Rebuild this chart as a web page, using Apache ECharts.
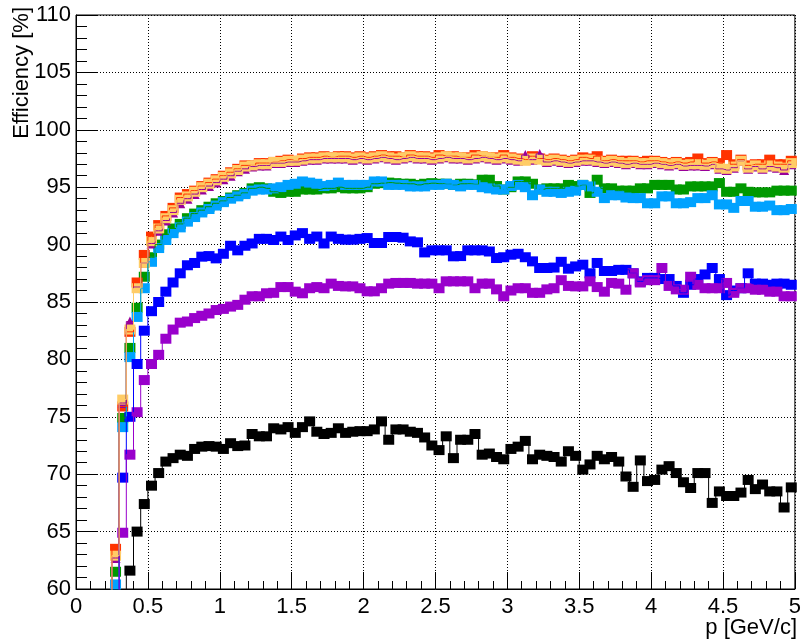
<!DOCTYPE html>
<html>
<head>
<meta charset="utf-8">
<script src="https://cdn.jsdelivr.net/npm/echarts@6/dist/echarts.min.js"></script>
<style>html,body{margin:0;padding:0;background:#fff}#c{width:804px;height:643px}</style>
</head>
<body>
<div id="c"></div>
<script>
// bin centres, p [GeV/c]
const P = [0.225,0.275,0.325,0.375,0.425,0.475,0.525,0.575,0.625,0.675,
0.725,0.775,0.825,0.875,0.925,0.975,1.025,1.075,1.125,1.175,
1.225,1.275,1.325,1.375,1.425,1.475,1.525,1.575,1.625,1.675,
1.725,1.775,1.825,1.875,1.925,1.975,2.025,2.075,2.125,2.175,
2.225,2.275,2.325,2.375,2.425,2.475,2.525,2.575,2.625,2.675,
2.725,2.775,2.825,2.875,2.925,2.975,3.025,3.075,3.125,3.175,
3.225,3.275,3.325,3.375,3.425,3.475,3.525,3.575,3.625,3.675,
3.725,3.775,3.825,3.875,3.925,3.975,4.025,4.075,4.125,4.175,
4.225,4.275,4.325,4.375,4.425,4.475,4.525,4.575,4.625,4.675,
4.725,4.775,4.825,4.875,4.925,4.975];

const effRed = [0,63.5,75.9,82.4,86.7,89.1,90.7,91.7,92.5,93.2,
94.1,94.4,94.7,95.1,95.4,95.7,96.0,96.3,96.6,96.9,
96.9,97.1,97.1,97.2,97.3,97.4,97.3,97.5,97.6,97.6,
97.7,97.6,97.7,97.7,97.6,97.7,97.6,97.7,97.8,97.7,
97.7,97.6,97.8,97.7,97.7,97.6,97.8,97.7,97.7,97.6,
97.6,97.8,97.7,97.6,97.6,97.8,97.6,97.5,97.4,97.7,
97.5,97.4,97.5,97.4,97.3,97.4,97.6,97.5,97.7,97.3,
97.4,97.3,97.3,97.3,97.2,97.3,97.3,97.2,97.1,97.2,
97.1,97.2,97.5,97.1,97.2,97.1,97.8,97.0,97.4,96.9,
97.0,97.0,97.4,97.0,97.0,97.3];

const effMagenta = [0,62.7,76.2,83.3,86.3,88.4,90.1,91.2,92.1,92.8,
93.6,94.0,94.4,94.8,95.1,95.4,95.7,96.0,96.4,96.6,
96.8,96.9,96.9,97.1,97.1,97.2,97.2,97.3,97.4,97.4,
97.5,97.5,97.5,97.5,97.4,97.5,97.4,97.5,97.6,97.5,
97.4,97.5,97.6,97.5,97.5,97.4,97.5,97.6,97.5,97.5,
97.4,97.5,97.6,97.5,97.4,97.5,97.4,97.3,97.8,97.4,
97.9,97.2,97.3,97.2,97.1,97.2,97.3,97.3,97.2,97.1,
97.2,97.1,97.0,97.1,97.0,97.0,97.1,97.0,96.9,97.0,
96.85,96.9,96.9,96.85,97.0,96.6,96.5,96.7,97.3,96.6,
96.8,96.6,96.8,96.7,96.5,97.0];

const effOrange = [0,62.9,76.5,82.6,86.2,88.4,90.3,91.4,92.3,93.0,
93.9,94.2,94.6,95.0,95.3,95.6,95.9,96.2,96.5,96.8,
96.9,97.0,97.0,97.2,97.2,97.3,97.3,97.4,97.5,97.5,
97.6,97.6,97.6,97.6,97.5,97.6,97.5,97.6,97.7,97.6,
97.5,97.6,97.7,97.6,97.6,97.5,97.6,97.7,97.6,97.6,
97.5,97.6,97.7,97.6,97.5,97.6,97.5,97.4,97.3,97.5,
97.4,97.3,97.4,97.3,97.2,97.3,97.4,97.4,97.3,97.2,
97.3,97.2,97.1,97.2,97.1,97.1,97.2,97.1,97.0,97.1,
96.95,97.0,97.0,96.95,97.1,96.7,96.6,96.8,97.3,96.7,
96.9,96.7,96.9,96.8,96.7,97.1];

const effGreen = [0,61.5,74.9,81.0,84.5,87.2,88.9,90.0,90.9,91.4,
91.8,92.3,92.7,93.0,93.3,93.6,93.8,94.1,94.3,94.5,
94.9,95.0,94.9,94.6,94.5,94.6,94.6,94.8,94.8,94.8,
94.9,94.9,95.0,94.9,94.9,94.9,95.0,95.3,95.35,95.4,
95.35,95.3,95.3,95.2,95.3,95.35,95.3,95.3,95.2,95.3,
95.3,95.25,95.65,95.65,95.1,94.8,95.0,95.5,95.5,95.3,
94.8,94.9,94.9,94.9,95.2,95.1,95.2,94.5,95.65,94.9,
94.9,94.7,94.7,94.7,94.9,94.9,95.2,95.2,95.2,94.8,
94.8,95.07,95.07,95.07,95.07,95.36,94.6,94.6,94.9,94.6,
94.55,94.55,94.55,94.7,94.7,94.7];

const effLightBlue = [0,60.4,74.1,80.2,83.7,86.2,88.5,89.7,90.4,91.0,
91.5,92.0,92.4,92.8,93.1,93.4,93.7,94.0,94.2,94.4,
94.7,94.8,94.8,94.9,95.0,95.2,95.3,95.5,95.4,95.3,
95.1,95.2,95.4,95.2,95.2,95.2,95.2,95.5,95.5,95.2,
95.2,95.2,95.07,95.07,95.07,95.2,95.2,95.3,95.2,95.07,
95.2,95.2,95.0,94.9,94.8,94.8,95.1,95.2,95.0,94.3,
94.8,94.6,94.6,94.5,94.6,94.7,95.2,95.07,94.6,94.05,
94.3,94.3,94.1,94.05,94.05,93.6,93.6,94.2,94.2,93.6,
93.6,93.7,94.05,94.05,94.3,93.5,93.5,93.2,93.8,93.8,
93.3,93.3,93.4,93.0,93.0,93.1];

const effBlue = [0,0,69.7,75.0,79.6,82.5,84.2,85.0,85.9,86.7,
87.5,88.2,88.4,88.95,89.0,88.8,89.2,89.9,89.5,89.9,
90.1,90.5,90.5,90.4,90.7,90.4,90.8,91.0,90.5,90.7,
90.1,90.7,90.5,90.43,90.43,90.5,90.57,90.14,90.14,90.66,
90.66,90.6,90.28,90.2,89.32,89.5,89.5,89.5,88.98,89.0,
89.5,89.5,89.5,89.4,88.83,88.9,89.12,89.2,88.9,88.54,
87.96,87.96,88.0,88.5,87.9,88.1,88.25,87.5,88.4,87.7,
87.7,87.8,87.8,87.5,86.8,87.1,87.1,87.0,87.0,86.4,
85.8,86.5,87.0,87.4,87.96,87.0,85.6,86.0,86.2,87.5,
86.6,86.6,86.5,86.6,86.6,86.5];

const effViolet = [0,0,64.9,71.7,75.4,78.2,79.6,80.4,81.8,82.6,
83.2,83.3,83.6,83.8,84.0,84.3,84.4,84.6,84.75,85.2,
85.5,85.5,85.76,85.8,86.3,86.3,85.9,85.76,86.2,86.3,
86.2,86.6,86.4,86.36,86.36,86.2,85.93,85.93,86.2,86.6,
86.66,86.66,86.66,86.6,86.6,86.6,86.2,86.8,86.8,86.8,
86.8,86.2,86.6,86.6,86.1,85.5,86.0,86.2,86.2,85.8,
85.8,86.1,86.2,86.9,86.4,86.36,86.36,86.8,86.3,85.9,
86.66,86.6,86.07,87.5,86.7,86.9,86.9,87.96,86.4,86.1,
86.07,87.2,86.5,86.2,86.2,86.2,86.66,85.8,86.2,86.2,
86.07,86.07,85.9,85.9,85.5,85.5];

const effBlack = [0,0,0,61.6,65.0,67.4,69.0,70.1,71.1,71.4,
71.7,71.6,72.2,72.4,72.45,72.4,72.2,72.7,72.45,72.5,
73.5,73.3,73.3,74.0,73.9,74.1,73.6,74.1,74.6,73.7,
73.5,73.6,74.0,73.6,73.7,73.75,73.75,73.9,74.6,73.0,
73.9,73.9,73.7,73.6,73.2,72.5,72.1,73.3,71.4,73.0,
73.0,73.5,71.7,71.8,71.5,71.3,72.2,72.4,72.9,71.3,
71.7,71.6,71.5,71.1,72.0,71.6,70.4,70.85,71.6,71.3,
71.5,71.1,69.8,68.9,71.2,69.4,69.5,70.4,70.7,70.1,
69.3,68.8,70.1,70.1,67.5,68.5,68.1,68.1,68.4,69.5,
68.7,69.1,68.5,68.5,67.1,68.85];

const X_TICKS = [0,0.5,1,1.5,2,2.5,3,3.5,4,4.5,5];
const Y_TICKS = [60,65,70,75,80,85,90,95,100,105,110];
const X_TITLE = 'p [GeV/c]';
const Y_TITLE = 'Efficiency [%]';

const FONT = '"Liberation Sans", Arial, Helvetica, sans-serif';

function mk(name, vals, color, symbol, size) {
  const data = P.map((p, i) => [p, vals[i]]);
  return [{
    name: name, type: 'line', step: 'middle', data: data,
    showSymbol: false, symbol: 'none', clip: true,
    lineStyle: { color: color, width: 1 },
    emphasis: { disabled: true }, animation: false
  }, {
    name: name, type: 'scatter', data: data.filter(d => d[1] >= 60),
    symbol: symbol || 'rect', symbolSize: size || [11, 10], clip: true,
    itemStyle: { color: color, borderWidth: 0, opacity: 1 },
    emphasis: { disabled: true }, animation: false
  }];
}

const chart = echarts.init(document.getElementById('c'), null, { renderer: 'canvas' });
chart.setOption({
  animation: false,
  backgroundColor: '#ffffff',
  grid: { left: 76, right: 5, top: 15, bottom: 54, show: true, borderColor: '#000', borderWidth: 1, backgroundColor: 'transparent' },
  xAxis: {
    type: 'value', min: X_TICKS[0], max: X_TICKS[X_TICKS.length - 1], interval: 0.5,
    axisLine: { show: true, onZero: false, lineStyle: { color: '#000', width: 1 } },
    axisTick: { show: true, inside: true, length: 17, lineStyle: { color: '#000', width: 1 } },
    minorTick: { show: true, splitNumber: 5, length: 8, lineStyle: { color: '#000', width: 1 } },
    splitLine: { show: true, lineStyle: { color: '#000', width: 1, type: [1, 2] } },
    axisLabel: { color: '#000', fontSize: 22, fontFamily: FONT, margin: 7,
      formatter: v => { const s = X_TICKS.find(t => Math.abs(t - v) < 1e-9); return s === undefined ? '' : String(s); } }
  },
  yAxis: {
    type: 'value', min: Y_TICKS[0], max: Y_TICKS[Y_TICKS.length - 1], interval: 5,
    axisLine: { show: true, onZero: false, lineStyle: { color: '#000', width: 1 } },
    axisTick: { show: true, inside: true, length: 21, lineStyle: { color: '#000', width: 1 } },
    minorTick: { show: true, splitNumber: 5, length: 11, lineStyle: { color: '#000', width: 1 } },
    splitLine: { show: true, lineStyle: { color: '#000', width: 1, type: [1, 2] } },
    axisLabel: { color: '#000', fontSize: 22, fontFamily: FONT, margin: 5 }
  },
  graphic: [
    { type: 'text', x: 22, y: 7, rotation: Math.PI / 2,
      style: { text: Y_TITLE, font: '22px ' + FONT, fill: '#000', align: 'right', verticalAlign: 'middle', textAlign: 'right', textVerticalAlign: 'middle' } },
    { type: 'text', x: 797, y: 628,
      style: { text: X_TITLE, font: '22px ' + FONT, fill: '#000', align: 'right', verticalAlign: 'middle', textAlign: 'right', textVerticalAlign: 'middle' } }
  ],
  series: [].concat(
    mk('green', effGreen, '#009900'),
    mk('lightblue', effLightBlue, '#00a2ff'),
    mk('blue', effBlue, '#0000ff'),
    mk('violet', effViolet, '#9900cc'),
    mk('black', effBlack, '#000000'),
    mk('red', effRed, '#ff3300'),
    mk('magenta', effMagenta, '#990099', 'triangle', 10),
    mk('orange', effOrange, '#ffcc66')
  )
});
</script>
</body>
</html>
